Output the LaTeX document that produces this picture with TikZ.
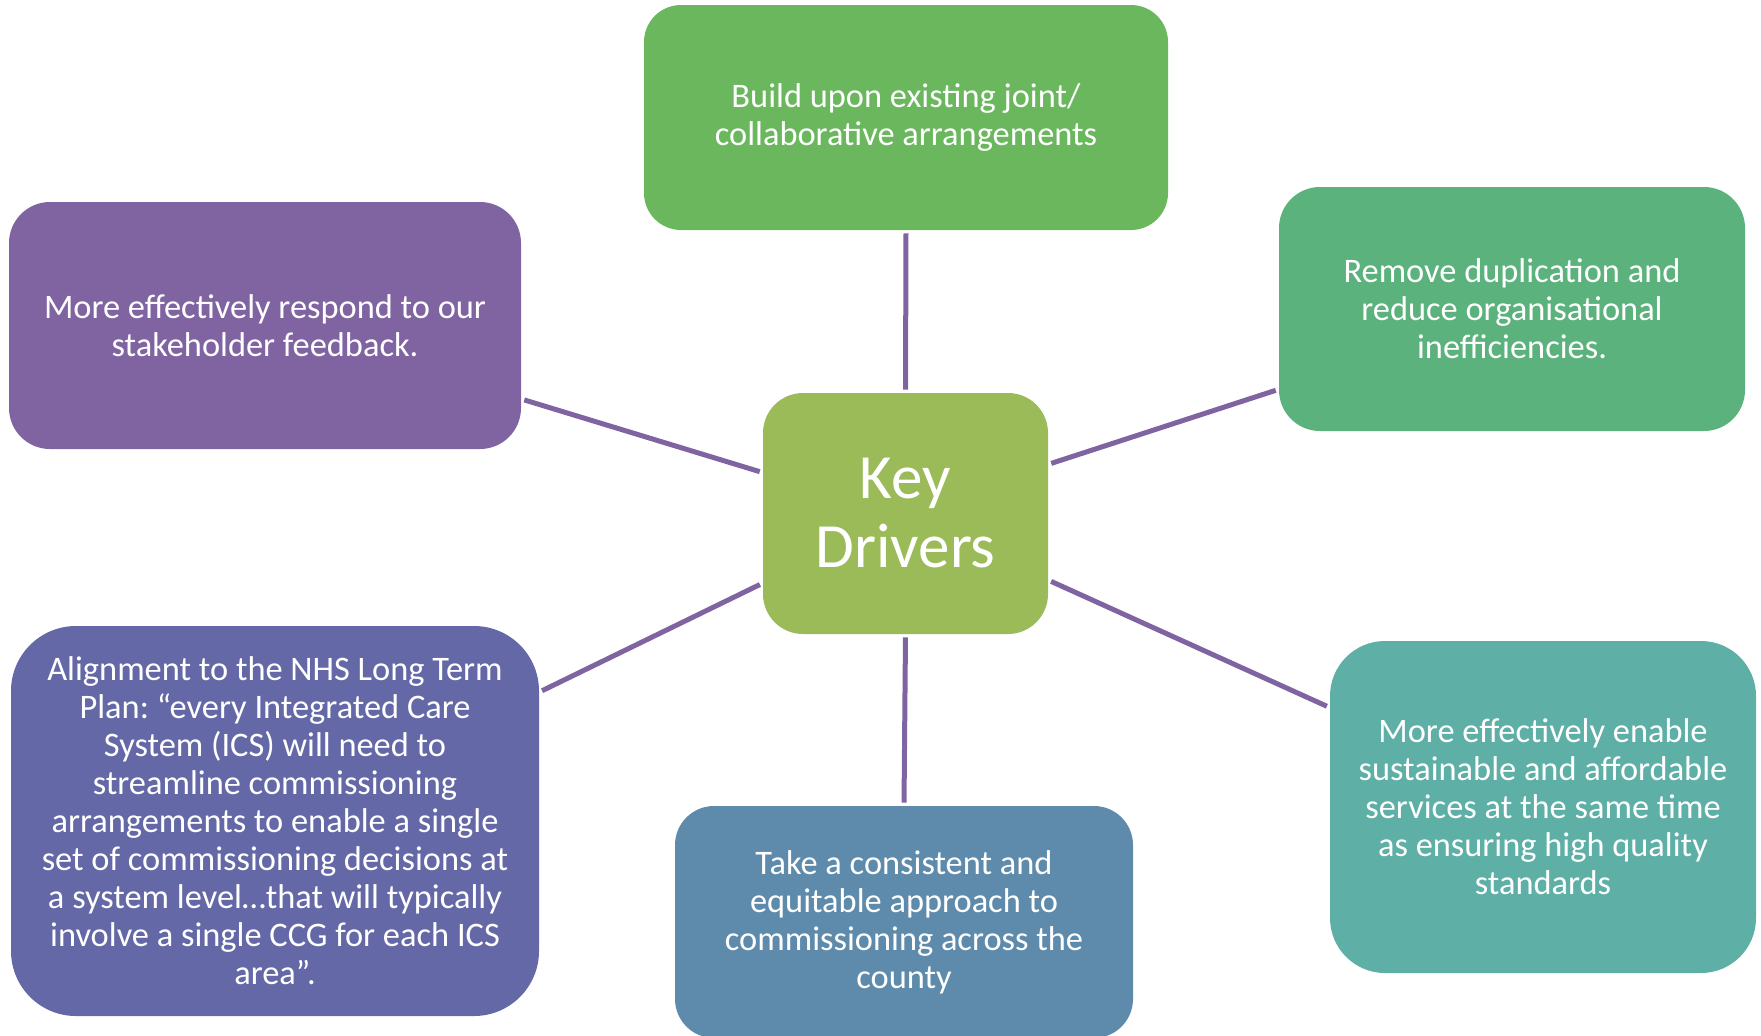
\documentclass[tikz,border=0pt]{standalone}
\usepackage{fontspec}
\setmainfont{Carlito}
\frenchspacing
\newlength{\du}
\setlength{\du}{0.5pt}
\definecolor{buildgreen}{rgb}{0.416000, 0.718000, 0.369000}
\definecolor{dupgreen}{rgb}{0.357000, 0.698000, 0.486000}
\definecolor{feedpurple}{rgb}{0.502000, 0.392000, 0.635000}
\definecolor{keygreen}{rgb}{0.608000, 0.733000, 0.349000}
\definecolor{nhsblue}{rgb}{0.392000, 0.408000, 0.651000}
\definecolor{countyblue}{rgb}{0.369000, 0.545000, 0.671000}
\definecolor{susteal}{rgb}{0.369000, 0.686000, 0.651000}
\definecolor{linkpurple}{rgb}{0.502000, 0.392000, 0.635000}
\tikzset{
  drivebox/.style={rectangle, inner sep=0pt, align=center, text=white,
    font=\fontsize{17.2}{19}\selectfont},
  keylink/.style={draw=linkpurple, line width=2.5pt, shorten <=1.5pt, shorten >=1.5pt},
}

\begin{document}
\begin{tikzpicture}
\pgftransformxscale{1.000000}
\pgftransformyscale{-1.000000}
\useasboundingbox (0\du,0\du) rectangle (1761\du,1035\du);
\clip (0\du,0\du) rectangle (1761\du,1035\du);
% centre box
\node[drivebox, fill=keygreen, minimum width=285\du, minimum height=241\du,
  rounded corners=40\du, font=\fontsize{31.5}{34.5}\selectfont] (key) at (905.500000\du,513.500000\du){Key\\Drivers};
% boxes round the centre
\node[drivebox, fill=buildgreen, minimum width=524\du, minimum height=225\du,
  rounded corners=37\du] (build) at (906.000000\du,117.500000\du){Build upon existing joint/\\collaborative arrangements};
\node[drivebox, fill=feedpurple, minimum width=512\du, minimum height=247\du,
  rounded corners=41\du] (feedback) at (265.000000\du,325.500000\du){More effectively respond to our\\stakeholder feedback.};
\node[drivebox, fill=dupgreen, minimum width=466\du, minimum height=244\du,
  rounded corners=41\du] (dup) at (1512.000000\du,309.000000\du){Remove duplication and\\reduce organisational\\inefficiencies.};
\node[drivebox, fill=nhsblue, minimum width=528\du, minimum height=390\du,
  rounded corners=65\du] (nhs) at (275.000000\du,821.000000\du){Alignment to the NHS Long Term\\Plan: “every Integrated Care\\System (ICS) will need to\\streamline commissioning\\arrangements to enable a single\\set of commissioning decisions at\\a system level…that will typically\\involve a single CCG for each ICS\\area”.};
\node[drivebox, fill=countyblue, minimum width=458\du, minimum height=232\du,
  rounded corners=39\du] (county) at (904.000000\du,922.000000\du){Take a consistent and\\equitable approach to\\commissioning across the\\county};
\node[drivebox, fill=susteal, minimum width=426\du, minimum height=332\du,
  rounded corners=55\du] (sust) at (1543.000000\du,807.000000\du){More effectively enable\\sustainable and affordable\\services at the same time\\as ensuring high quality\\standards};
% connectors
\draw[keylink] (key.north) -- (build.south);
\draw[keylink] (key.south) -- (county.north);
\draw[keylink] (key.164) -- (feedback.-16);
\draw[keylink] (key.19) -- (dup.199);
\draw[keylink] (key.206) -- (nhs.26);
\draw[keylink] (key.-25) -- (sust.155);
\end{tikzpicture}
\end{document}
